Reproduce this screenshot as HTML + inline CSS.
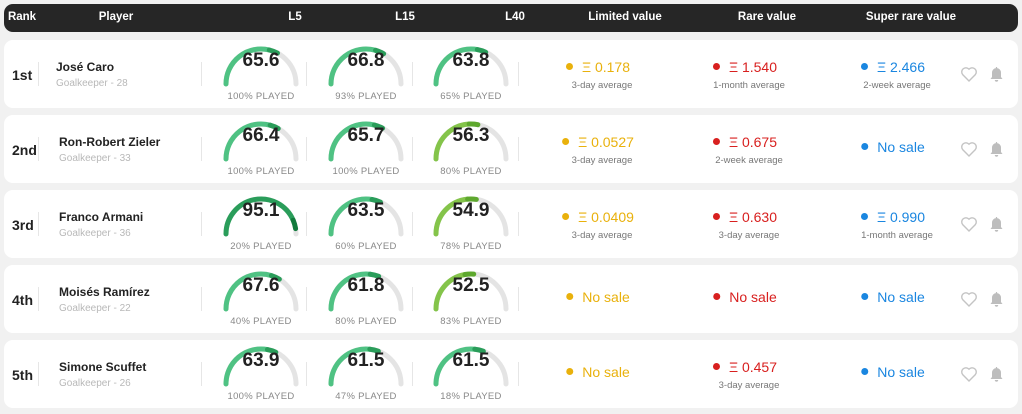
<!DOCTYPE html>
<html><head><meta charset="utf-8">
<style>
body{margin:0;width:1022px;height:414px;background:#f1f1f1;font-family:"Liberation Sans",sans-serif;position:relative;overflow:hidden}
.abs{position:absolute}
.hdr{left:4px;top:4px;width:1014px;height:28px;background:#262626;border-radius:9px}
.ht{color:#fff;font-size:11.5px;font-weight:bold;top:11px;transform:translateX(-50%)}
.row{left:4px;width:1014px;height:68px;background:#fff;border-radius:9px}
.rank{font-size:14px;font-weight:bold;color:#222;top:27px;left:8px}
.div{width:1px;height:24px;background:#e6e6e6;top:22px}
.name{font-size:12px;font-weight:bold;color:#222;top:20px}
.sub{font-size:10px;color:#b8b8b8;top:38px}
.gv{font-size:19px;font-weight:bold;color:#222;transform:translateX(-50%);top:10px}
.gp{font-size:9.5px;color:#888;letter-spacing:0.3px;transform:translateX(-50%);top:51px;white-space:nowrap}
.pv{font-size:14px;top:19px;transform:translateX(-50%);white-space:nowrap}
.pv i{display:inline-block;width:7px;height:7px;border-radius:50%;margin-right:9px;vertical-align:2px}
.ps{font-size:9.5px;color:#777;top:40px;transform:translateX(-50%);white-space:nowrap}
</style></head><body>
<div class="abs hdr"></div>
<div class="abs ht" style="left:22px">Rank</div>
<div class="abs ht" style="left:116px">Player</div>
<div class="abs ht" style="left:295px">L5</div>
<div class="abs ht" style="left:405px">L15</div>
<div class="abs ht" style="left:515px">L40</div>
<div class="abs ht" style="left:625px">Limited value</div>
<div class="abs ht" style="left:767px">Rare value</div>
<div class="abs ht" style="left:911px">Super rare value</div>
<div id="rows"></div>
<script>
const ranks=["1st","2nd","3rd","4th","5th"];
const names=["José Caro","Ron-Robert Zieler","Franco Armani","Moisés Ramírez","Simone Scuffet"];
const ages=[28,33,36,22,26];
const l5=[65.6,66.4,95.1,67.6,63.9];
const l15=[66.8,65.7,63.5,61.8,61.5];
const l40=[63.8,56.3,54.9,52.5,61.5];
const p5=[100,100,20,40,100];
const p15=[93,100,60,80,47];
const p40=[65,80,78,83,18];
const limited=["Ξ 0.178","Ξ 0.0527","Ξ 0.0409","No sale","No sale"];
const limitedSub=["3-day average","3-day average","3-day average","",""];
const rare=["Ξ 1.540","Ξ 0.675","Ξ 0.630","No sale","Ξ 0.457"];
const rareSub=["1-month average","2-week average","3-day average","","3-day average"];
const superRare=["Ξ 2.466","No sale","Ξ 0.990","No sale","No sale"];
const superSub=["2-week average","","1-month average","",""];
const root=document.getElementById('rows');
function col(v){return v>=80?['#2a9d5a','#127a3c']:v>=60?['#4fc283','#2a9d5a']:['#84c44a','#5ea82e'];}
function gauge(row,cx,v,p,key){
  const r=35,cy=44;
  const a=Math.PI*(1-v/100);
  const ex=cx+r*Math.cos(a),ey=cy-r*Math.sin(a);
  const c=col(v);
  const am=Math.PI*(1-Math.max(0,v-8)/100);
  const mx=cx+r*Math.cos(am),my=cy-r*Math.sin(am);
  const svg=document.createElementNS('http://www.w3.org/2000/svg','svg');
  svg.setAttribute('width','1014');svg.setAttribute('height','68');
  svg.style.position='absolute';svg.style.left='0';svg.style.top='0';
  svg.innerHTML=`<path d="M${cx-r} ${cy} A${r} ${r} 0 0 1 ${cx+r} ${cy}" fill="none" stroke="#e4e4e4" stroke-width="5" stroke-linecap="round"/>
<path d="M${cx-r} ${cy} A${r} ${r} 0 0 1 ${mx} ${my}" fill="none" stroke="${c[0]}" stroke-width="5" stroke-linecap="round"/>
<path d="M${mx} ${my} A${r} ${r} 0 0 1 ${ex} ${ey}" fill="none" stroke="${c[1]}" stroke-width="5" stroke-linecap="round"/>`;
  
  
  row.appendChild(svg);
  const t=document.createElement('div');t.className='abs gv';t.style.left=cx+'px';t.textContent=v.toFixed(1);
  
  
  row.appendChild(t);
  const q=document.createElement('div');q.className='abs gp';q.style.left=cx+'px';q.textContent=p+'% PLAYED';
  
  
  row.appendChild(q);
}
function price(row,cx,val,sub,color,key){
  const d=document.createElement('div');d.className='abs pv';d.style.left=cx+'px';d.style.color=color;
  if(!sub)d.style.top='24px';
  d.innerHTML='<i style="background:'+color+'"></i>'+val;
  
  
  row.appendChild(d);
  if(sub){const s=document.createElement('div');s.className='abs ps';s.style.left=(cx+4)+'px';s.textContent=sub;
  
  
  row.appendChild(s);}
}
ranks.forEach((rk,i)=>{
  const row=document.createElement('div');row.className='abs row';row.style.top=(40+75*i)+'px';
  
  
  root.appendChild(row);
  const r=document.createElement('div');r.className='abs rank';r.textContent=rk;
  
  
  row.appendChild(r);
  [34,197,302,408,514].forEach(x=>{const d=document.createElement('div');d.className='abs div';d.style.left=x+'px';
  
  
  row.appendChild(d);});
  const nx=i===0?52:55;
  const n=document.createElement('div');n.className='abs name';n.style.left=nx+'px';n.textContent=names[i];
  
  
  row.appendChild(n);
  const s=document.createElement('div');s.className='abs sub';s.style.left=nx+'px';s.textContent='Goalkeeper - '+ages[i];
  
  
  row.appendChild(s);
  gauge(row,257,l5[i],p5[i],'l5');
  gauge(row,362,l15[i],p15[i],'l15');
  gauge(row,467,l40[i],p40[i],'l40');
  price(row,594,limited[i],limitedSub[i],'#e9b10c','limited');
  price(row,741,rare[i],rareSub[i],'#d8201f','rare');
  price(row,889,superRare[i],superSub[i],'#1a86e0','super-rare');
  const h=document.createElementNS('http://www.w3.org/2000/svg','svg');
  h.setAttribute('width','60');h.setAttribute('height','24');
  h.style.position='absolute';h.style.left='956px';h.style.top='23px';
  h.innerHTML='<path d="M9 18 L2.8 11.8 A3.7 3.7 0 0 1 9 6.2 A3.7 3.7 0 0 1 15.2 11.8 Z" fill="none" stroke="#c4c4c4" stroke-width="1.4"/><path d="M30.5 16 L32 14 L32 9.5 A4.5 4.5 0 0 1 41 9.5 L41 14 L42.5 16 Z M34.8 17 A1.7 1.7 0 0 0 38.2 17 Z M35.9 4 h1.2 v1.5 h-1.2z" fill="#bdbdbd"/>';
  
  
  row.appendChild(h);
});
</script>
</body></html>
